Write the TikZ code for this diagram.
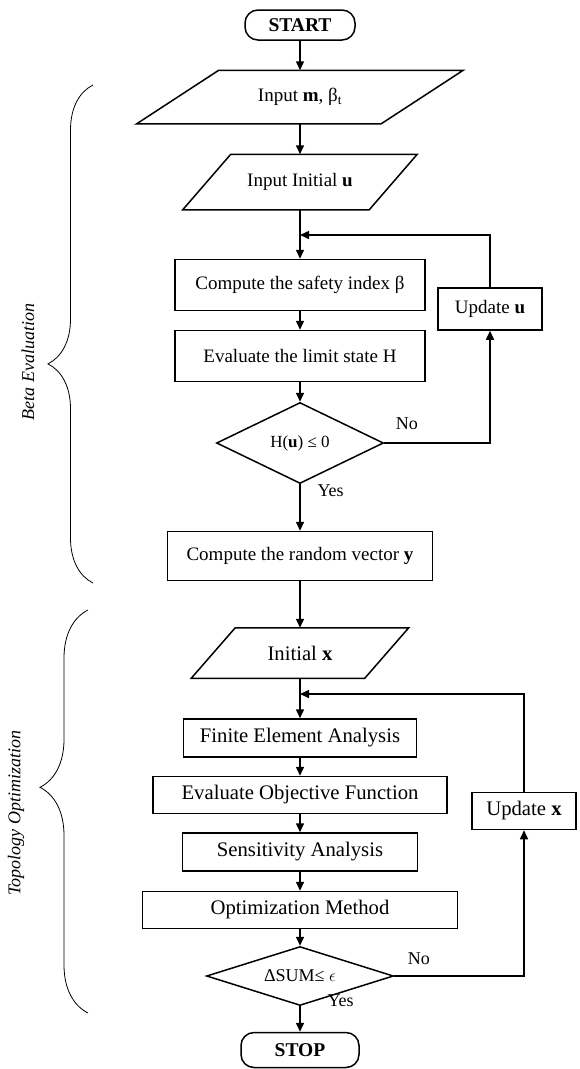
\documentclass[tikz,border=0pt]{standalone}
\usepackage{fontspec}
\setmainfont{Liberation Serif}
\usetikzlibrary{shapes.geometric,arrows.meta,decorations.pathreplacing}

\begin{document}
\begin{tikzpicture}[x=1pt, y=-1pt,
    base/.style={draw, line width=1.5pt, inner sep=0pt, font=\fontsize{19}{22}\selectfont},
    proc/.style={base, rectangle, minimum width=#1},
    low/.style={font=\fontsize{20.7}{24}\selectfont},
    term/.style={base, rectangle, rounded corners=13pt, minimum width=#1, minimum height=30,
        font=\fontsize{19.5}{22}\selectfont\bfseries},
    io/.style 2 args={base, draw=none, rectangle, minimum width=#1,
        append after command={\pgfextra{\draw[line width=1.5pt]
            ([xshift=#2]\tikzlastnode.north west) -- ([xshift=#2]\tikzlastnode.north east)
            -- ([xshift=-#2]\tikzlastnode.south east) -- ([xshift=-#2]\tikzlastnode.south west) -- cycle;}}},
    dec/.style={base, diamond, aspect=3, font=\fontsize{17}{20}\selectfont},
    arr/.style={line width=1.5pt, -{Triangle[length=9pt,width=8pt]}},
    lbl/.style={font=\fontsize{18}{21}\selectfont},
    brc/.style={decorate, line width=0.8pt},
    side/.style={font=\fontsize{18}{21}\selectfont\itshape, rotate=90}
]
    \useasboundingbox (0,0) rectangle (580,1069);

    % Beta evaluation
    \node[term=110] (start) at (300,25) {START};
    \node[io={243}{41pt}, minimum height=52] (inm) at (300,97) {Input \textbf{m}, β\textsubscript{t}};
    \node[io={185}{24pt}, minimum height=54] (inu) at (300,182) {Input Initial \textbf{u}};
    \coordinate (j1) at (300,235);
    \node[proc=250, minimum height=51] (safety) at (300,285) {Compute the safety index β};
    \node[proc=250, minimum height=51] (limit) at (300,356) {Evaluate the limit state H};
    \node[dec, minimum width=167, minimum height=81] (dec1) at (300,443) {H(\textbf{u}) ≤ 0};
    \node[proc=104, minimum height=42] (updu) at (490,309) {Update \textbf{u}};
    \node[proc=265, minimum height=49] (rand) at (300,556) {Compute the random vector \textbf{y}};

    \draw[arr] (start) -- (inm);
    \draw[arr] (inm) -- (inu);
    \draw[arr] (inu.south) -- (safety.north);
    \draw[arr] (safety) -- (limit);
    \draw[arr] (limit) -- (dec1);
    \draw[arr] (dec1.east) -| (updu.south);
    \draw[arr] (updu.north) |- (j1);
    \draw[arr] (dec1.south) -- (rand.north);
    \node[lbl, above right, xshift=8pt, yshift=10pt] (no1) at (dec1.east) {No};
    \node[lbl, right, xshift=14pt, yshift=-6pt] (yes1) at (dec1.south) {Yes};

    % Topology optimization
    \node[io={172}{22pt}, minimum height=49, low] (initx) at (300,653) {Initial \textbf{x}};
    \coordinate (j2) at (300,694);
    \node[proc=233, minimum height=38, low] (fea) at (300,738) {Finite Element Analysis};
    \node[proc=294, minimum height=37, low] (obj) at (300,795) {Evaluate Objective Function};
    \node[proc=235, minimum height=38, low] (sens) at (300,852) {Sensitivity Analysis};
    \node[proc=315, minimum height=37, low] (opt) at (300,910) {Optimization Method};
    \node[dec, minimum width=187, minimum height=59, font=\fontsize{18}{21}\selectfont] (dec2) at (300,976) {ΔSUM≤ $\epsilon$};
    \node[proc=104, minimum height=37, low] (updx) at (524,811) {Update \textbf{x}};
    \node[term=118, minimum height=35] (stop) at (300,1050) {STOP};

    \draw[arr] (rand) -- (initx);
    \draw[arr] (initx) -- (fea);
    \draw[arr] (fea) -- (obj);
    \draw[arr] (obj) -- (sens);
    \draw[arr] (sens) -- (opt);
    \draw[arr] (opt) -- (dec2);
    \draw[arr] (dec2.east) -| (updx.south);
    \draw[arr] (updx.north) |- (j2);
    \draw[arr] (dec2) -- (stop);
    \node[lbl, above right, xshift=10pt, yshift=8pt] (no2) at (dec2.east) {No};
    \node[lbl, right, xshift=24pt, yshift=6pt] (yes2) at (dec2.south) {Yes};

    % braces
    \draw[brc, decoration={brace, amplitude=45pt, aspect=0.44}] (93,583) -- (93,85);
    \node[side] (beta) at (28,362) {Beta Evaluation};
    \draw[brc, decoration={brace, amplitude=48pt, aspect=0.56}] (88,1013) -- (88,610);
    \node[side] (topo) at (16,813) {Topology Optimization};
\end{tikzpicture}
\end{document}
